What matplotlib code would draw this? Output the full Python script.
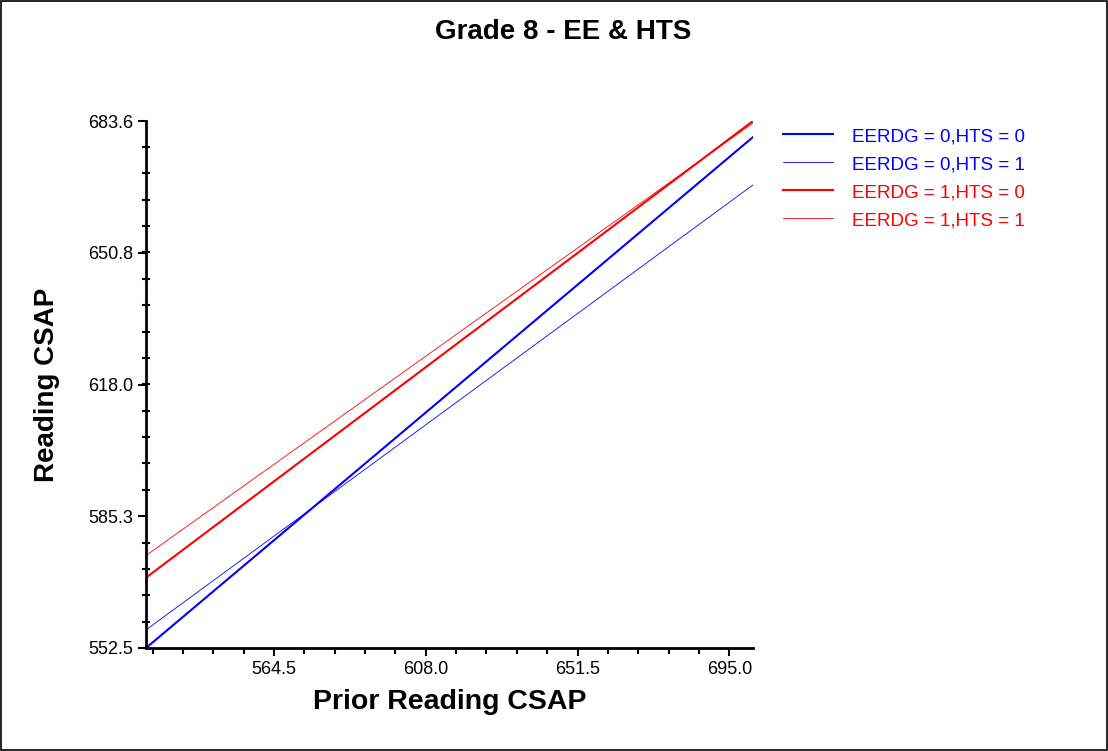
import matplotlib
matplotlib.use('Agg')
import matplotlib.pyplot as plt
from matplotlib.patches import Rectangle
from matplotlib.ticker import FixedLocator, AutoMinorLocator

plt.rcParams['font.family'] = ['Liberation Sans', 'DejaVu Sans']

# Data: fitted lines (endpoints at min / max prior score)
x_ends = [527.8, 701.8]
series_labels = ['EERDG = 0,HTS = 0', 'EERDG = 0,HTS = 1',
                 'EERDG = 1,HTS = 0', 'EERDG = 1,HTS = 1']
series_y = [
    [552.5, 679.6],
    [557.0, 667.7],
    [570.0, 683.6],
    [575.5, 683.1],
]
series_colors = ['#0000ff', '#0000ff', '#ff0000', '#ff0000']
series_widths = [1.5, 0.6, 1.5, 0.6]

x_ticks = [564.5, 608.0, 651.5, 695.0]
y_ticks = [552.5, 585.3, 618.0, 650.8, 683.6]

W, H = 1108, 751
fig = plt.figure(figsize=(W / 100, H / 100), dpi=100)
ax = fig.add_axes([146 / W, 1 - 648 / H, (753 - 146) / W, (648 - 121) / H])

for y, lab, c, lw in zip(series_y, series_labels, series_colors, series_widths):
    ax.plot(x_ends, y, color=c, linewidth=lw, label=lab)

ax.set_xlim(x_ends[0], x_ends[1])
ax.set_ylim(y_ticks[0], y_ticks[-1])
ax.xaxis.set_major_locator(FixedLocator(x_ticks))
ax.yaxis.set_major_locator(FixedLocator(y_ticks))
ax.set_xticklabels([f'{v:.1f}' for v in x_ticks])
ax.set_yticklabels([f'{v:.1f}' for v in y_ticks])
ax.xaxis.set_minor_locator(AutoMinorLocator(5))
ax.yaxis.set_minor_locator(AutoMinorLocator(5))

ax.tick_params(axis='both', which='major', direction='out', length=6, width=1.5,
               labelsize=13, colors='black')
ax.tick_params(axis='x', which='minor', direction='out', length=4, width=1.5)
ax.tick_params(axis='y', which='minor', direction='inout', length=6, width=1.5)

ax.spines['top'].set_visible(False)
ax.spines['right'].set_visible(False)
ax.spines['left'].set_linewidth(2)
ax.spines['bottom'].set_linewidth(2)

ax.set_xlabel('Prior Reading CSAP', fontsize=20.5, fontweight='bold', labelpad=8)
ax.set_ylabel('Reading CSAP', fontsize=20, fontweight='bold', labelpad=20)
fig.text(563 / W, 1 - 32 / H, 'Grade 8 - EE & HTS', fontsize=20,
         fontweight='bold', ha='center', va='center')

leg = ax.legend(loc='upper left', bbox_to_anchor=(766 / W, 1 - 111 / H),
                bbox_transform=fig.transFigure, frameon=False, fontsize=13.5,
                handlelength=2.65, handletextpad=1.05, labelspacing=0.58,
                labelcolor='linecolor')

# outer border
fig.patches.append(Rectangle((0.001, 0.001), 0.998, 0.998, transform=fig.transFigure,
                             fill=False, edgecolor='black', linewidth=1.2))

fig.savefig('out.png', dpi=100)
